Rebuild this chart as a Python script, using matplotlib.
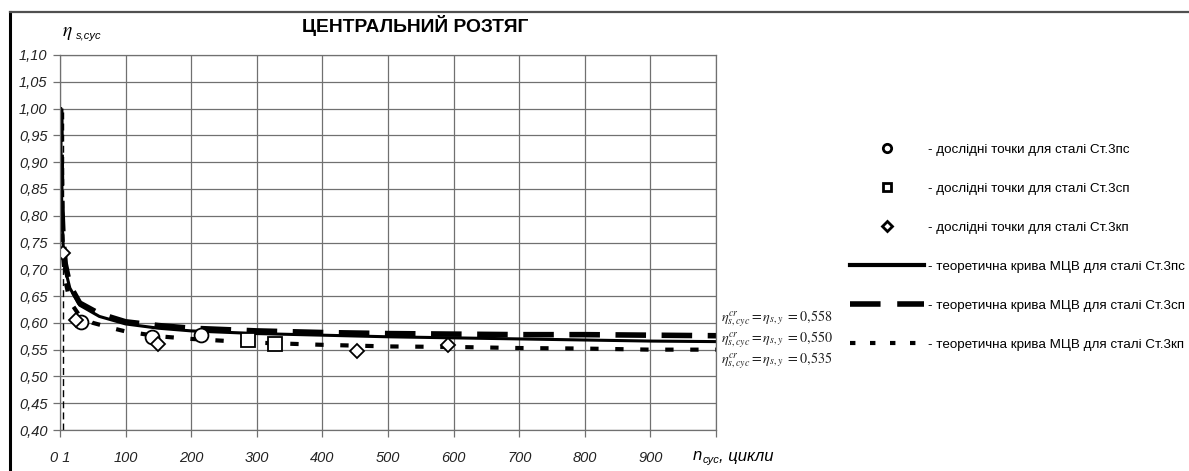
import numpy as np
import matplotlib

matplotlib.use('Agg')
import matplotlib.pyplot as plt
from matplotlib.lines import Line2D

plt.rcParams['font.family'] = ['Liberation Sans', 'DejaVu Sans']
plt.rcParams['mathtext.fontset'] = 'stix'

# theoretical curves (n_cyc, eta)
n_curve = [1, 2, 3, 5, 8, 15, 30, 60, 100, 150, 200, 300, 400, 500, 600, 700, 800, 900, 1000]
eta_3ps = [1.0, 0.87, 0.80, 0.74, 0.70, 0.665, 0.633, 0.612, 0.598, 0.590, 0.585, 0.580,
           0.577, 0.574, 0.572, 0.570, 0.568, 0.566, 0.565]
eta_3sp = [1.0, 0.88, 0.81, 0.75, 0.71, 0.67, 0.637, 0.617, 0.602, 0.595, 0.590, 0.585,
           0.582, 0.580, 0.579, 0.578, 0.578, 0.577, 0.576]
n_kp = [1, 2, 3, 5, 8, 15, 30, 50, 80, 100, 150, 200, 300, 400, 500, 600, 700, 800, 900, 1000]
eta_3kp = [1.0, 0.86, 0.78, 0.72, 0.68, 0.64, 0.613, 0.600, 0.590, 0.584, 0.575, 0.570,
           0.563, 0.559, 0.556, 0.555, 0.553, 0.552, 0.550, 0.550]

# experimental points
pts_3ps_n = [32, 140, 215]
pts_3ps_eta = [0.602, 0.573, 0.578]
pts_3sp_n = [287, 327]
pts_3sp_eta = [0.568, 0.561]
pts_3kp_n = [5, 25, 150, 453, 591]
pts_3kp_eta = [0.731, 0.605, 0.560, 0.548, 0.559]

vline_n = 5

x_ticks = [0, 100, 200, 300, 400, 500, 600, 700, 800, 900]
x_labels = ['0 1', '100', '200', '300', '400', '500', '600', '700', '800', '900']
y_ticks = [0.40, 0.45, 0.50, 0.55, 0.60, 0.65, 0.70, 0.75, 0.80, 0.85, 0.90, 0.95, 1.00, 1.05, 1.10]

legend_labels = ['- дослідні точки для сталі Ст.3пс',
                 '- дослідні точки для сталі Ст.3сп',
                 '- дослідні точки для сталі Ст.3кп',
                 '- теоретична крива МЦВ для сталі Ст.3пс',
                 '- теоретична крива МЦВ для сталі Ст.3сп',
                 '- теоретична крива МЦВ для сталі Ст.3кп']
annot_values = ['0,558', '0,550', '0,535']

fig = plt.figure(figsize=(11.89, 4.71), dpi=100)
ax = fig.add_axes([60 / 1189, 1 - 430 / 471, 656 / 1189, 375 / 471])

ax.plot([vline_n, vline_n], [0.40, 1.0], color='black', lw=1.0, ls=(0, (5, 3)))
ax.plot(n_kp, eta_3kp, color='black', lw=3.0, ls=(0, (2, 4)), dash_capstyle='butt')
ax.plot(n_curve, eta_3sp, color='black', lw=4.0, ls=(0, (5.5, 2.8)), dash_capstyle='butt')
ax.plot(n_curve, eta_3ps, color='black', lw=2.2)

mk = dict(ls='none', mfc='white', mec='black', mew=1.3)
ax.plot(pts_3ps_n, pts_3ps_eta, marker='o', ms=10, **mk)
ax.plot(pts_3sp_n, pts_3sp_eta, marker='s', ms=10, **mk)
ax.plot(pts_3kp_n, pts_3kp_eta, marker='D', ms=7.5, **mk)

ax.set_xlim(0, 1000)
ax.set_ylim(0.40, 1.10)
ax.set_xticks(x_ticks + [1000])
ax.set_xticklabels(x_labels + [''])
ax.set_yticks(y_ticks)
ax.set_yticklabels([f'{v:.2f}'.replace('.', ',') for v in y_ticks])
ax.grid(True, color='#707070', lw=0.9)
ax.set_axisbelow(True)
for s in ax.spines.values():
    s.set_color('#707070')
    s.set_linewidth(0.9)
ax.tick_params(direction='out', length=5, width=0.9, color='#707070',
               labelsize=10.5, pad=4)
ax.tick_params(axis='x', pad=10)
for lab in ax.get_xticklabels() + ax.get_yticklabels():
    lab.set_fontstyle('italic')
    lab.set_color('#222222')

# axis titles
fig.text(62 / 1189, 1 - 33 / 471, r'$\eta$', fontsize=14, va='center', ha='left')
fig.text(76 / 1189, 1 - 36 / 471, 's,cyc', fontsize=8, style='italic', va='center', ha='left')
fig.text(693 / 1189, 1 - 456 / 471, 'n', fontsize=12, style='italic', va='center', ha='left')
fig.text(703 / 1189, 1 - 460 / 471, 'cyc', fontsize=8, style='italic', va='center', ha='left')
fig.text(719 / 1189, 1 - 456 / 471, ', цикли', fontsize=12, style='italic', va='center', ha='left')

fig.text(415 / 1189, 1 - 25 / 471, 'ЦЕНТРАЛЬНИЙ РОЗТЯГ', fontsize=13.9, weight='bold',
         ha='center', va='center')

annot = '\n'.join(r'$\eta^{cr}_{s,cyc} = \eta_{s,y}\ = ' + v.replace(',', '{,}') + '$'
                  for v in annot_values)
fig.text(721 / 1189, 1 - 340 / 471, annot, fontsize=10.2, ha='left', va='center',
         color='#222222', linespacing=1.02)

handles = [
    Line2D([], [], ls='none', marker='o', ms=6, mfc='white', mec='black', mew=2),
    Line2D([], [], ls='none', marker='s', ms=6, mfc='white', mec='black', mew=2),
    Line2D([], [], ls='none', marker='D', ms=5, mfc='white', mec='black', mew=2),
    Line2D([], [], color='black', lw=3),
    Line2D([], [], color='black', lw=4, ls=(0, (5.5, 3.0)), dash_capstyle='butt'),
    Line2D([], [], color='black', lw=3, ls=(0, (1.3, 3.5)), dash_capstyle='butt'),
]
fig.legend(handles, legend_labels, loc='upper left', bbox_to_anchor=(845 / 1189, 1 - 138 / 471),
           frameon=False, fontsize=9.6, handlelength=5.5, handletextpad=0.3,
           labelspacing=2.0, borderaxespad=0)

# outer frame
fig.add_artist(Line2D([10 / 1189, 10 / 1189], [0, 1 - 12 / 471], color='black', lw=2.2))
fig.add_artist(Line2D([10 / 1189, 1], [1 - 12 / 471, 1 - 12 / 471], color='#505050', lw=1.6))

fig.savefig('out.png', dpi=100)
